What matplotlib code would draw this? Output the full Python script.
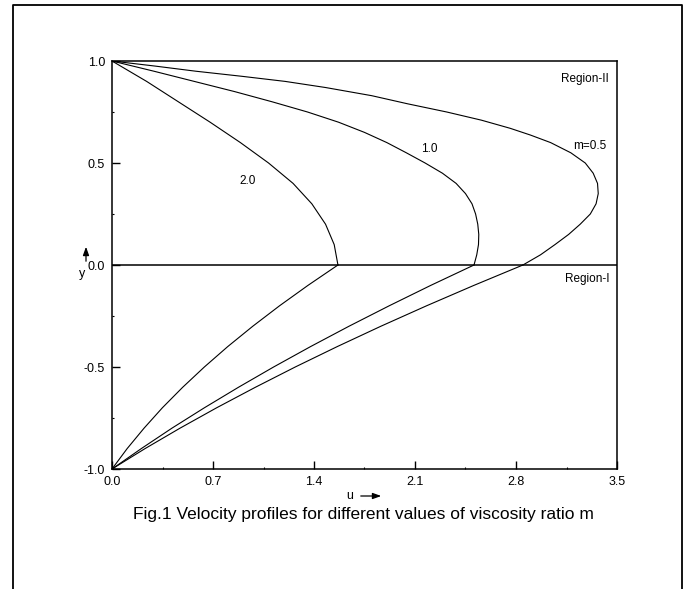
"""
Velocity profiles for different values of viscosity ratio m.

Two-region flow: Region-I (y < 0) and Region-II (y > 0).
"""
import matplotlib
matplotlib.use('Agg')
import matplotlib.pyplot as plt
from matplotlib.lines import Line2D
from matplotlib.ticker import MultipleLocator

# Figure settings
FIG_W, FIG_H, DPI = 688, 589, 100
FONT = 'Liberation Sans'

# Region-II profiles (y from 1 down to 0)
y_m05_upper = [1.0, 0.975, 0.95, 0.925, 0.9, 0.87, 0.83, 0.79, 0.75, 0.71, 0.67, 0.637,
               0.6, 0.55, 0.5, 0.45, 0.4, 0.35, 0.3, 0.25, 0.2, 0.15, 0.1, 0.05, 0.0]
u_m05_upper = [0.0, 0.30, 0.58, 0.90, 1.20, 1.48, 1.80, 2.05, 2.32, 2.56, 2.76, 2.90,
               3.04, 3.18, 3.28, 3.335, 3.365, 3.37, 3.355, 3.315, 3.245, 3.165, 3.07,
               2.97, 2.848]

y_m10_upper = [1.0, 0.95, 0.9, 0.85, 0.8, 0.75, 0.7, 0.65, 0.6, 0.55, 0.5, 0.45, 0.4,
               0.35, 0.3, 0.25, 0.2, 0.15, 0.1, 0.05, 0.0]
u_m10_upper = [0.0, 0.29, 0.57, 0.85, 1.11, 1.355, 1.57, 1.75, 1.905, 2.04, 2.17, 2.29,
               2.385, 2.45, 2.495, 2.52, 2.535, 2.542, 2.54, 2.528, 2.509]

y_m20_upper = [1.0, 0.9, 0.8, 0.7, 0.6, 0.5, 0.4, 0.3, 0.2, 0.1, 0.0]
u_m20_upper = [0.0, 0.24, 0.46, 0.68, 0.89, 1.085, 1.255, 1.385, 1.48, 1.54, 1.566]

# Region-I profiles (y from -1 up to 0)
y_lower = [-1.0, -0.9, -0.8, -0.7, -0.6, -0.5, -0.4, -0.3, -0.2, -0.1, 0.0]
u_m05_lower = [0.0, 0.229, 0.471, 0.725, 0.992, 1.270, 1.561, 1.864, 2.180, 2.508, 2.848]
u_m10_lower = [0.0, 0.203, 0.415, 0.640, 0.875, 1.120, 1.376, 1.643, 1.921, 2.209, 2.509]
u_m20_lower = [0.0, 0.105, 0.222, 0.349, 0.489, 0.640, 0.802, 0.976, 1.161, 1.358, 1.566]

# Curve labels and their positions (u, y)
curve_labels = ['m=0.5', '1.0', '2.0']
label_u = [3.31, 2.20, 0.94]
label_y = [0.585, 0.57, 0.41]

x_ticks = [0.0, 0.7, 1.4, 2.1, 2.8, 3.5]
y_ticks = [-1.0, -0.5, 0.0, 0.5, 1.0]


def make_plot():
    plt.rcParams['font.family'] = [FONT, 'DejaVu Sans']
    fig = plt.figure(figsize=(FIG_W / DPI, FIG_H / DPI), dpi=DPI)
    ax = fig.add_axes([112 / FIG_W, 1 - 469 / FIG_H, 505 / FIG_W, 408 / FIG_H])

    lw = 0.8
    for u, y in [(u_m05_upper, y_m05_upper), (u_m10_upper, y_m10_upper),
                 (u_m20_upper, y_m20_upper), (u_m05_lower, y_lower),
                 (u_m10_lower, y_lower), (u_m20_lower, y_lower)]:
        ax.plot(u, y, color='black', lw=lw, solid_joinstyle='round')

    # interface between the two regions
    ax.axhline(0.0, color='black', lw=1.1)

    for text, u, y in zip(curve_labels, label_u, label_y):
        ax.text(u, y, text, fontsize=8.5, ha='center', va='center')

    ax.text(3.445, 0.91, 'Region-II', fontsize=8.5, ha='right', va='center')
    ax.text(3.445, -0.07, 'Region-I', fontsize=8.5, ha='right', va='center')

    ax.set_xlim(0, 3.5)
    ax.set_ylim(-1, 1)
    ax.set_xticks(x_ticks)
    ax.set_yticks(y_ticks)
    ax.set_xticklabels([f'{v:.1f}' for v in x_ticks])
    ax.set_yticklabels([f'{v:.1f}' for v in y_ticks])
    ax.xaxis.set_minor_locator(MultipleLocator(0.35))
    ax.yaxis.set_minor_locator(MultipleLocator(0.25))
    ax.tick_params(which='major', direction='in', length=5.5, width=1.0,
                   labelsize=9, pad=5, top=False, right=False)
    ax.tick_params(which='minor', direction='in', length=1.5, width=0.8,
                   top=False, right=False)
    for side in ax.spines.values():
        side.set_linewidth(1.1)

    # axis names with arrows
    arrow = dict(arrowstyle='-|>,head_length=0.5,head_width=0.18', color='black', lw=0.9)
    fig.text(350 / FIG_W, 1 - 496 / FIG_H, 'u', fontsize=9, ha='center', va='center')
    fig.add_artist(plt.Annotation('', xy=(384 / FIG_W, 1 - 496 / FIG_H),
                                  xytext=(358 / FIG_W, 1 - 496 / FIG_H),
                                  xycoords='figure fraction', textcoords='figure fraction',
                                  arrowprops=arrow))
    fig.text(82 / FIG_W, 1 - 274 / FIG_H, 'y', fontsize=9, ha='center', va='center')
    fig.add_artist(plt.Annotation('', xy=(86 / FIG_W, 1 - 244 / FIG_H),
                                  xytext=(86 / FIG_W, 1 - 264 / FIG_H),
                                  xycoords='figure fraction', textcoords='figure fraction',
                                  arrowprops=arrow))

    fig.text(363 / FIG_W, 1 - 515 / FIG_H,
             'Fig.1 Velocity profiles for different values of viscosity ratio m',
             fontsize=12.5, ha='center', va='center')

    # outer frame, open at the bottom
    left, right, top = 13 / FIG_W, 682 / FIG_W, 1 - 5 / FIG_H
    fig.add_artist(Line2D([left, left, right, right], [0, top, top, 0],
                          transform=fig.transFigure, color='black', lw=1.3))

    fig.savefig('out.png', dpi=DPI)


if __name__ == "__main__":
    make_plot()
